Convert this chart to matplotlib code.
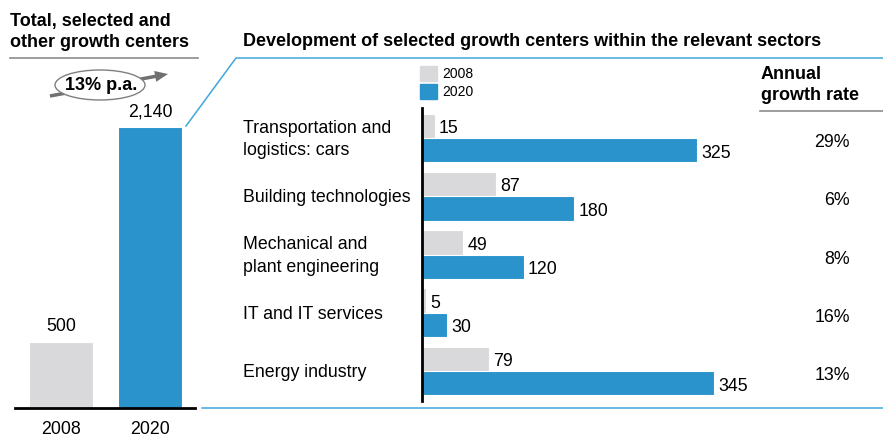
import numpy as np
import matplotlib.pyplot as plt
from matplotlib.patches import Ellipse, FancyArrow

plt.rcParams['font.family'] = ['Liberation Sans', 'DejaVu Sans']

# data
total_years = ['2008', '2020']
total_values = [500, 2140]
total_labels = ['500', '2,140']

sectors = ['Transportation and\nlogistics: cars', 'Building technologies',
           'Mechanical and\nplant engineering', 'IT and IT services', 'Energy industry']
values_2008 = [15, 87, 49, 5, 79]
values_2020 = [325, 180, 120, 30, 345]
growth_rates = ['29%', '6%', '8%', '16%', '13%']
cagr_label = '13% p.a.'

gray = '#d9d9db'
blue = '#2a93cb'
line_blue = '#3fa7dc'
fs = 12.8

W, H = 883, 437
fig = plt.figure(figsize=(W / 100, H / 100), dpi=100)

def px_axes(x0, y0, x1, y1):
    # pixel box (top-left origin) -> figure axes
    return fig.add_axes([x0 / W, (H - y1) / H, (x1 - x0) / W, (y1 - y0) / H])

# left chart: totals
axl = px_axes(15, 100, 195, 408)
xpos = np.arange(len(total_values))
axl.bar(xpos, total_values, width=0.72, color=[gray, blue], edgecolor='white', linewidth=0.8)
for x, v, lab in zip(xpos, total_values, total_labels):
    axl.annotate(lab, (x, v), xytext=(0, 5), textcoords='offset points',
                 ha='center', va='bottom', fontsize=fs)
axl.set_xlim(-0.517, 1.506)
axl.set_ylim(0, 308 / 0.1313)
axl.set_xticks(xpos, total_years, fontsize=fs)
axl.tick_params(axis='x', length=0, pad=9)
axl.set_yticks([])
for s in ['top', 'right', 'left']:
    axl.spines[s].set_visible(False)
axl.spines['bottom'].set_linewidth(2)

# right chart: sectors
axr = px_axes(422, 108, 800, 401)
ypos = np.arange(len(sectors))
bh = 0.42
axr.barh(ypos - bh / 2, values_2008, height=bh, color=gray, edgecolor='white', linewidth=0.8, label='2008')
axr.barh(ypos + bh / 2, values_2020, height=bh, color=blue, edgecolor='white', linewidth=0.8, label='2020')
for y, v in zip(ypos, values_2008):
    axr.annotate(str(v), (v, y - bh / 2), xytext=(3, -2), textcoords='offset points',
                 ha='left', va='center', fontsize=fs)
for y, v in zip(ypos, values_2020):
    axr.annotate(str(v), (v, y + bh / 2), xytext=(3, -2), textcoords='offset points',
                 ha='left', va='center', fontsize=fs)
axr.set_xlim(0, 378 / 0.846)
axr.set_ylim(4.515, -0.515)
axr.set_xticks([])
axr.set_yticks([])
for s in ['top', 'right', 'bottom']:
    axr.spines[s].set_visible(False)
axr.spines['left'].set_linewidth(2)

# overlay for titles, lines, notes
ov = fig.add_axes([0, 0, 1, 1], facecolor='none')
ov.set_xlim(0, W)
ov.set_ylim(H, 0)
ov.axis('off')

ov.text(10, 32, 'Total, selected and\nother growth centers', fontsize=13, fontweight='bold',
        ha='left', va='center', linespacing=1.35)
ov.plot([10, 198], [58, 58], color='#8c8c8c', lw=1.2)
ov.text(243, 42, 'Development of selected growth centers within the relevant sectors',
        fontsize=13, fontweight='bold', ha='left', va='center')
ov.plot([186, 236, W], [126, 58, 58], color=line_blue, lw=1.1)
ov.plot([202, W], [408, 408], color=line_blue, lw=1.1)

ov.text(761, 85, 'Annual\ngrowth rate', fontsize=13, fontweight='bold', ha='left', va='center',
        linespacing=1.35)
ov.plot([760, W], [111, 111], color='#8c8c8c', lw=1.2)

# legend
ov.add_patch(plt.Rectangle((420, 66), 17, 15, color=gray))
ov.add_patch(plt.Rectangle((420, 84), 17, 15, color=blue))
ov.text(442, 73.5, '2008', fontsize=10, va='center')
ov.text(442, 91.5, '2020', fontsize=10, va='center')

# sector labels and growth rates
for y, name, g in zip(ypos, sectors, growth_rates):
    py = 139.5 + y * 58.25
    ov.text(243, py, name, fontsize=fs, ha='left', va='center', linespacing=1.4)
    ov.text(850, py + 3, g, fontsize=fs, ha='right', va='center')

# growth arrow with ellipse
ov.add_patch(FancyArrow(50, 96, 118, -22, width=3.5, head_width=11, head_length=13,
                        length_includes_head=True, color='#707070', lw=0))
ov.add_patch(Ellipse((100, 85), 90, 30, facecolor='white', edgecolor='#7f7f7f', lw=1))
ov.text(101, 85, cagr_label, fontsize=13, fontweight='bold', ha='center', va='center')

fig.savefig('out.png', dpi=100)
